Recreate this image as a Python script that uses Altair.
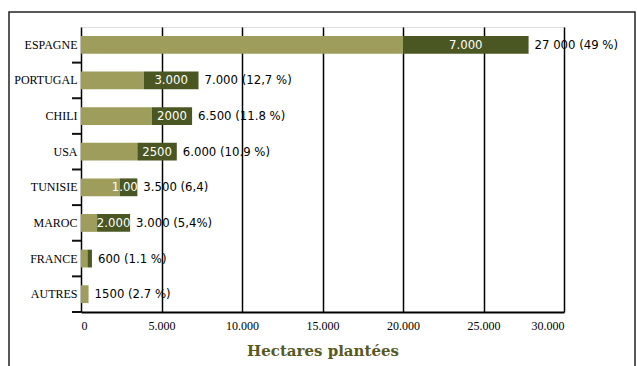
import altair as alt
import pandas as pd

# Data
countries = ["ESPAGNE", "PORTUGAL", "CHILI", "USA", "TUNISIE", "MAROC", "FRANCE", "AUTRES"]
light_part = [20000, 3900, 4400, 3500, 2400, 1000, 400, 470]
dark_part = [7800, 3400, 2500, 2450, 1100, 2050, 280, 0]
dark_labels = ["7.000", "3.000", "2000", "2500", "1.000", "2.000", "", ""]
total_labels = ["27 000 (49 %)", "7.000 (12,7 %)", "6.500 (11.8 %)", "6.000 (10.9 %)",
                "3.500 (6,4)", "3.000 (5,4%)", "600 (1.1 %)", "1500 (2.7 %)"]
x_ticks = [0, 5000, 10000, 15000, 20000, 25000, 30000]

df = pd.DataFrame({
    "pays": countries,
    "clair": light_part,
    "fonce": dark_part,
    "lab_in": dark_labels,
    "lab_out": total_labels,
})
df["total"] = df["clair"] + df["fonce"]
df["milieu"] = df["clair"] + df["fonce"] / 2
df["zero"] = 0

LIGHT = "#9e9d5c"
DARK = "#4a5723"

xscale = alt.Scale(domain=[0, 30000], nice=False)
yscale = alt.Scale(domain=countries, paddingInner=0.5, paddingOuter=0.25)

x_axis = alt.Axis(
    values=x_ticks,
    labelExpr="replace(format(datum.value, ','), ',', '.')",
    grid=True, gridColor="black", gridWidth=1.5, gridOpacity=1,
    ticks=False, domain=True, domainColor="black", domainWidth=2,
    labelFont="Liberation Serif", labelFontSize=12, labelColor="black",
    labelPadding=8,
    title="Hectares plantées", titleFont="DejaVu Serif", titleFontWeight="bold",
    titleFontSize=15, titleColor="#57591f", titlePadding=12,
)
y_axis = alt.Axis(
    title=None, ticks=False,
    domain=False, labelFont="Liberation Serif", labelFontSize=12, labelColor="black",
    labelPadding=4,
)

base = alt.Chart(df)

light = base.mark_bar(color=LIGHT).encode(
    x=alt.X("zero:Q", scale=xscale, axis=x_axis),
    x2="clair:Q",
    y=alt.Y("pays:N", scale=yscale, sort=countries, axis=y_axis),
)

dark = base.mark_bar(color=DARK).encode(
    x=alt.X("clair:Q", scale=xscale),
    x2="total:Q",
    y=alt.Y("pays:N", scale=yscale, sort=countries),
)

inner = base.mark_text(color="white", font="DejaVu Sans Condensed", fontSize=13,
                       align="center", baseline="middle").encode(
    x=alt.X("milieu:Q", scale=xscale),
    y=alt.Y("pays:N", scale=yscale, sort=countries),
    text="lab_in:N",
)

outer = base.mark_text(color="black", font="DejaVu Sans Condensed", fontSize=13,
                       align="left", baseline="middle", dx=6).encode(
    x=alt.X("total:Q", scale=xscale),
    y=alt.Y("pays:N", scale=yscale, sort=countries),
    text="lab_out:N",
)

# small ticks between the rows on the left axis (thin bars below each band)
yticks = base.mark_bar(color="#111111", height=2, yOffset=17.8, clip=False).encode(
    y=alt.Y("pays:N", scale=yscale, sort=countries),
    x=alt.value(-9), x2=alt.value(0),
)

frame = alt.Chart(pd.DataFrame({"a": [0]})).mark_rect(
    fill=None, stroke="#222222", strokeWidth=1.5, clip=False
).encode(
    x=alt.value(-72), x2=alt.value(554), y=alt.value(-15), y2=alt.value(345)
)

chart = alt.layer(light, dark, inner, outer, yticks, frame).properties(
    width=483, height=285,
    padding={"left": 81, "top": 27, "right": 73, "bottom": 54},
    autosize=alt.AutoSizeParams(type="none"),
).configure_view(stroke="black", strokeWidth=1.5).configure(background="white")

chart.save("out.html", embed_options={"renderer": "svg", "actions": False})
